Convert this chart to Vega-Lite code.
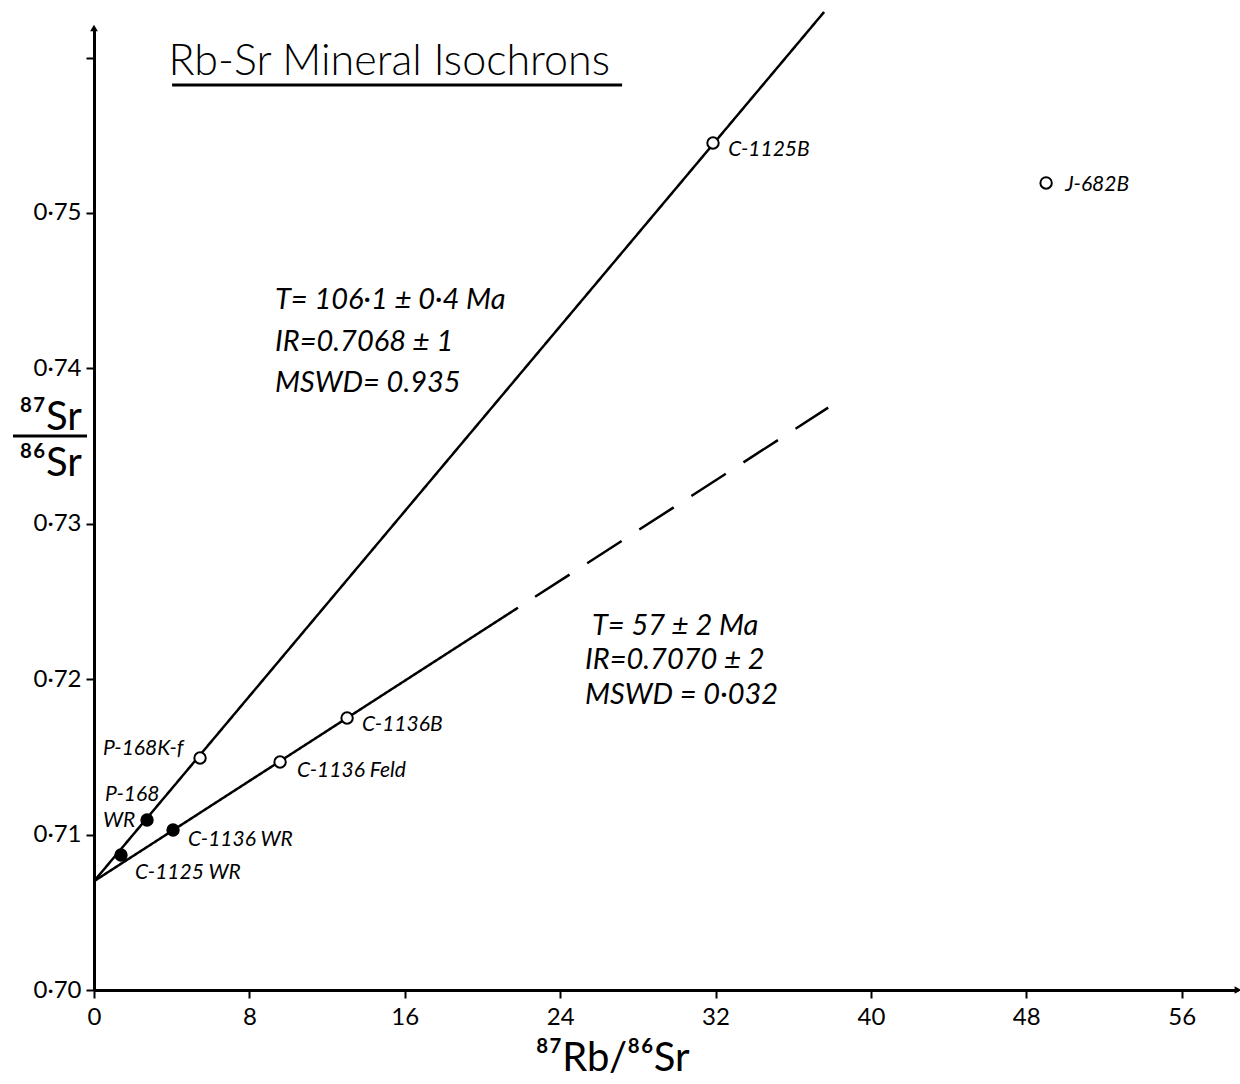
{
  "$schema": "https://vega.github.io/schema/vega-lite/v6.json",
  "width": 1144,
  "height": 962,
  "autosize": {"type": "none"},
  "padding": {"left": 94, "top": 28, "right": 2, "bottom": 94},
  "background": "white",
  "config": {"view": {"stroke": null}, "font": "Lato"},
  "datasets": {
    "isochrons": [
      {"segment": "upper", "x": 0, "y": 0.7070},
      {"segment": "upper", "x": 37.59, "y": 0.76293},
      {"segment": "lower solid", "x": 0, "y": 0.7070},
      {"segment": "lower solid", "x": 21.83, "y": 0.72460},
      {"segment": "lower dashed", "x": 22.71, "y": 0.72530},
      {"segment": "lower dashed", "x": 37.8, "y": 0.73747}
    ],
    "samples": [
      {"sample": "C-1125B", "x": 31.87, "y": 0.75450, "type": "mineral"},
      {"sample": "J-682B", "x": 49.02, "y": 0.75193, "type": "mineral"},
      {"sample": "P-168K-f", "x": 5.46, "y": 0.71493, "type": "mineral"},
      {"sample": "P-168 WR", "x": 2.73, "y": 0.71094, "type": "whole rock"},
      {"sample": "C-1125 WR", "x": 1.39, "y": 0.70869, "type": "whole rock"},
      {"sample": "C-1136 WR", "x": 4.07, "y": 0.71030, "type": "whole rock"},
      {"sample": "C-1136 Feld", "x": 9.58, "y": 0.71467, "type": "mineral"},
      {"sample": "C-1136B", "x": 13.03, "y": 0.71750, "type": "mineral"}
    ],
    "labels": [
      {"label": "C-1125B", "x": 32.65, "y": 0.75405},
      {"label": "J-682B", "x": 50.0, "y": 0.75180},
      {"label": "P-168K-f", "x": 0.46, "y": 0.71551},
      {"label": "P-168", "x": 0.57, "y": 0.71255},
      {"label": "WR", "x": 0.46, "y": 0.71085},
      {"label": "C-1136 WR", "x": 4.84, "y": 0.70965},
      {"label": "C-1125 WR", "x": 2.11, "y": 0.70753},
      {"label": "C-1136 Feld", "x": 10.45, "y": 0.71409},
      {"label": "C-1136B", "x": 13.80, "y": 0.71705}
    ],
    "stats": [
      {"text": "T= 106·1 ± 0·4  Ma", "x": 9.32, "y": 0.74440},
      {"text": "IR=0.7068 ± 1", "x": 9.32, "y": 0.74170},
      {"text": "MSWD= 0.935", "x": 9.32, "y": 0.73906},
      {"text": "T= 57 ± 2  Ma", "x": 25.64, "y": 0.72342},
      {"text": "IR=0.7070 ± 2", "x": 25.28, "y": 0.72124},
      {"text": "MSWD = 0·032", "x": 25.28, "y": 0.71898}
    ],
    "title": [
      {"text": "Rb-Sr Mineral Isochrons", "x": 15.2, "y": 0.75972}
    ],
    "underline": [
      {"x": 4.02, "x2": 27.19, "y": 0.75824}
    ],
    "fractionBar": [
      {"x": -4.17, "x2": -0.36, "y": 0.73565}
    ],
    "arrows": [
      {"x": 0, "y": 0.7619, "dir": "up"},
      {"x": 58.9, "y": 0.70, "dir": "right"}
    ]
  },
  "layer": [
    {
      "data": {"name": "isochrons"},
      "mark": {"type": "line", "color": "black", "strokeWidth": 2.5},
      "encoding": {
        "x": {
          "field": "x", "type": "quantitative",
          "scale": {"domain": [0, 58.9], "nice": false, "zero": false},
          "axis": {
            "values": [0, 8, 16, 24, 32, 40, 48, 56],
            "grid": false,
            "domainColor": "black", "domainWidth": 3,
            "tickColor": "black", "tickWidth": 2, "tickSize": 8,
            "labelColor": "black", "labelFontSize": 24, "labelFont": "Lato",
            "labelPadding": 7, "labelFlush": false,
            "title": "⁸⁷Rb/⁸⁶Sr",
            "titleFont": "Lato", "titleFontSize": 40, "titleFontWeight": "normal",
            "titleColor": "black",
            "titleX": 518, "titleY": 80, "titleBaseline": "alphabetic", "titleAnchor": null, "titleAlign": "center"
          }
        },
        "y": {
          "field": "y", "type": "quantitative",
          "scale": {"domain": [0.70, 0.7619], "nice": false, "zero": false},
          "axis": {
            "values": [0.70, 0.71, 0.72, 0.73, 0.74, 0.75, 0.76],
            "labelExpr": "datum.value > 0.755 ? '' : replace(format(datum.value, '.2f'), '.', '·')",
            "grid": false,
            "domainColor": "black", "domainWidth": 3,
            "tickColor": "black", "tickWidth": 2, "tickSize": 8,
            "labelColor": "black", "labelFontSize": 24, "labelFont": "Lato",
            "labelPadding": 5, "labelFlush": false,
            "title": ["⁸⁷Sr", "⁸⁶Sr"],
            "titleFont": "Lato", "titleFontSize": 40, "titleFontWeight": "normal",
            "titleColor": "black", "titleAngle": 0, "titleLineHeight": 46,
            "titleX": -44, "titleY": 401, "titleBaseline": "alphabetic", "titleAlign": "center", "titleAnchor": null
          }
        },
        "detail": {"field": "segment"},
        "strokeDash": {
          "field": "segment", "type": "nominal",
          "scale": {"domain": ["upper", "lower solid", "lower dashed"], "range": [[1, 0], [1, 0], [41, 21]]},
          "legend": null
        }
      }
    },
    {
      "data": {"name": "samples"},
      "mark": {"type": "point", "filled": true, "stroke": "black", "strokeWidth": 2, "size": 130, "opacity": 1},
      "encoding": {
        "x": {"field": "x", "type": "quantitative"},
        "y": {"field": "y", "type": "quantitative"},
        "fill": {
          "field": "type", "type": "nominal",
          "scale": {"domain": ["mineral", "whole rock"], "range": ["white", "black"]},
          "legend": null
        }
      }
    },
    {
      "data": {"name": "labels"},
      "mark": {"type": "text", "align": "left", "baseline": "middle", "font": "Lato", "fontStyle": "italic", "fontSize": 21, "color": "black"},
      "encoding": {
        "x": {"field": "x", "type": "quantitative"},
        "y": {"field": "y", "type": "quantitative"},
        "text": {"field": "label"}
      }
    },
    {
      "data": {"name": "stats"},
      "mark": {"type": "text", "align": "left", "baseline": "middle", "font": "Lato", "fontStyle": "italic", "fontSize": 29, "color": "black"},
      "encoding": {
        "x": {"field": "x", "type": "quantitative"},
        "y": {"field": "y", "type": "quantitative"},
        "text": {"field": "text"}
      }
    },
    {
      "data": {"name": "title"},
      "mark": {"type": "text", "align": "center", "baseline": "middle", "font": "Lato", "fontWeight": 300, "fontSize": 43, "color": "black"},
      "encoding": {
        "x": {"field": "x", "type": "quantitative"},
        "y": {"field": "y", "type": "quantitative"},
        "text": {"field": "text"}
      }
    },
    {
      "data": {"name": "underline"},
      "mark": {"type": "rule", "color": "black", "strokeWidth": 3},
      "encoding": {
        "x": {"field": "x", "type": "quantitative"},
        "x2": {"field": "x2"},
        "y": {"field": "y", "type": "quantitative"}
      }
    },
    {
      "data": {"name": "fractionBar"},
      "mark": {"type": "rule", "color": "black", "strokeWidth": 3},
      "encoding": {
        "x": {"field": "x", "type": "quantitative"},
        "x2": {"field": "x2"},
        "y": {"field": "y", "type": "quantitative"}
      }
    },
    {
      "data": {"name": "arrows"},
      "mark": {"type": "point", "filled": true, "color": "black", "size": 60, "opacity": 1},
      "encoding": {
        "x": {"field": "x", "type": "quantitative"},
        "y": {"field": "y", "type": "quantitative"},
        "shape": {
          "field": "dir", "type": "nominal",
          "scale": {"domain": ["up", "right"], "range": ["triangle-up", "triangle-right"]},
          "legend": null
        }
      }
    }
  ]
}
